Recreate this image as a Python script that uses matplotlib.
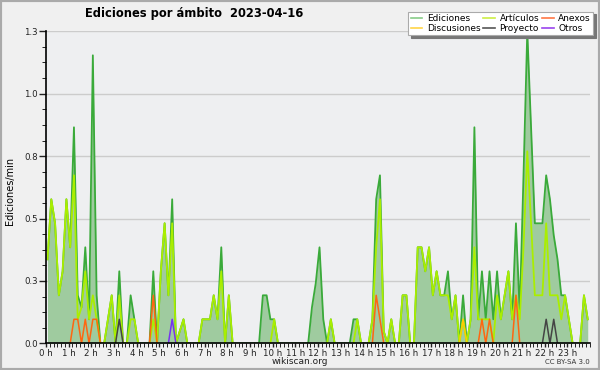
import numpy as np
import matplotlib
matplotlib.use("Agg")
import matplotlib.pyplot as plt
from matplotlib.patches import Rectangle
from matplotlib.ticker import MultipleLocator, FixedLocator

# ediciones por minuto, en intervalos de 10 minutos (144 puntos, 00:00 - 23:50)
minutos = np.arange(144) * 10 + 4

ediciones = [
    0.35, 0.6, 0.5, 0.2, 0.3, 0.6, 0.4, 0.9, 0.2, 0.15, 0.4, 0.1,
    1.2, 0.2, 0, 0, 0.1, 0.2, 0, 0.3, 0, 0, 0.2, 0.1,
    0, 0, 0, 0, 0.3, 0, 0.3, 0.5, 0.2, 0.6, 0, 0.05,
    0.1, 0, 0, 0, 0, 0.1, 0.1, 0.1, 0.2, 0.1, 0.4, 0,
    0.2, 0, 0, 0, 0, 0, 0, 0, 0, 0.2, 0.2, 0.1,
    0.1, 0, 0, 0, 0, 0, 0, 0, 0, 0, 0.15, 0.25,
    0.4, 0.1, 0, 0.1, 0, 0, 0, 0, 0, 0.1, 0.1, 0,
    0, 0, 0.1, 0.6, 0.7, 0.05, 0, 0.1, 0, 0, 0.2, 0.2,
    0, 0, 0.4, 0.4, 0.3, 0.4, 0.2, 0.3, 0.2, 0.2, 0.3, 0.1,
    0.2, 0, 0.2, 0, 0.1, 0.9, 0.1, 0.3, 0.1, 0.3, 0.1, 0.3,
    0.1, 0.2, 0.3, 0.1, 0.5, 0.13, 0.7, 1.3, 0.9, 0.5, 0.5, 0.5,
    0.7, 0.6, 0.45, 0.35, 0.2, 0.2, 0.1, 0, 0, 0, 0.2, 0.1,
]
articulos = [
    0.35, 0.6, 0.5, 0.2, 0.3, 0.6, 0.4, 0.7, 0.1, 0.15, 0.3, 0.1,
    0.2, 0.1, 0, 0, 0.1, 0.2, 0, 0.2, 0, 0, 0.1, 0.1,
    0, 0, 0, 0, 0.1, 0, 0.3, 0.5, 0.2, 0.5, 0, 0.05,
    0.1, 0, 0, 0, 0, 0.1, 0.1, 0.1, 0.2, 0.1, 0.3, 0,
    0.2, 0, 0, 0, 0, 0, 0, 0, 0, 0, 0, 0,
    0.1, 0, 0, 0, 0, 0, 0, 0, 0, 0, 0, 0,
    0, 0, 0, 0.1, 0, 0, 0, 0, 0, 0, 0.1, 0,
    0, 0, 0.1, 0.4, 0.6, 0.05, 0, 0.1, 0, 0, 0.2, 0.2,
    0, 0, 0.4, 0.4, 0.3, 0.4, 0.2, 0.3, 0.2, 0.2, 0.2, 0.1,
    0.2, 0, 0.1, 0, 0.1, 0.4, 0.1, 0.1, 0.1, 0.1, 0, 0.2,
    0.1, 0.2, 0.3, 0.1, 0.2, 0.1, 0.4, 0.8, 0.5, 0.2, 0.2, 0.2,
    0.5, 0.2, 0.2, 0.2, 0.1, 0.2, 0.1, 0, 0, 0, 0.2, 0.1,
]
# series pequeñas: {indice de intervalo: valor}
anexos = {7: 0.1, 8: 0.1, 10: 0.1, 12: 0.1, 13: 0.1, 28: 0.2, 87: 0.2,
          88: 0.1, 115: 0.1, 117: 0.1, 124: 0.2}
discusiones = {110: 0.1}
proyecto = {19: 0.1, 132: 0.1, 134: 0.1}
otros = {33: 0.1}

horas = [f"{h} h" for h in range(24)]

colores = {
    "Ediciones": "#88cc88",
    "Discusiones": "#ffd447",
    "Artículos": "#ccee44",
    "Proyecto": "#555555",
    "Anexos": "#ff7744",
    "Otros": "#9944ee",
}


def serie(d):
    v = np.zeros(144)
    for k, val in d.items():
        v[k] = val
    return v


def sin_ceros(v):
    # oculta los tramos en cero para no dibujar sobre el eje
    v = np.asarray(v, dtype=float)
    izq = np.r_[0, v[:-1]]
    der = np.r_[v[1:], 0]
    return np.where((v == 0) & (izq == 0) & (der == 0), np.nan, v)


x = minutos / 60.0
ed = np.array(ediciones)
ar = np.array(articulos)

fig = plt.figure(figsize=(6, 3.7), dpi=100, facecolor="#f0f0f0")
ax = fig.add_axes([46 / 600, 26.7 / 370, 544 / 600, 312 / 370])
ax.set_facecolor("#eeeff1")

ax.fill_between(x, 0, ed, color="#9fcb9f", lw=0, zorder=1)
ax.plot(x, ed, color="#3aaa3a", lw=1.3, zorder=3)
ax.plot(x, sin_ceros(ar), color="#aaee00", lw=1.3, zorder=4)
ax.plot(x, sin_ceros(serie(discusiones)), color="#ffcc00", lw=1.1, zorder=5)
ax.plot(x, sin_ceros(serie(proyecto)), color="#444444", lw=1.1, zorder=5)
ax.plot(x, sin_ceros(serie(anexos)), color="#ff6611", lw=1.1, zorder=5)
ax.plot(x, sin_ceros(serie(otros)), color="#7733ee", lw=1.1, zorder=5)

ax.set_xlim(0, 24)
ax.set_ylim(0, 1.3)
yt = np.linspace(0, 1.3, 6)
ax.yaxis.set_major_locator(FixedLocator(yt))
ax.set_yticklabels([f"{t:.1f}" for t in yt])
ax.yaxis.set_minor_locator(MultipleLocator(0.065))
ax.xaxis.set_major_locator(FixedLocator(range(24)))
ax.set_xticklabels(horas)
ax.xaxis.set_minor_locator(MultipleLocator(1 / 6))

ax.tick_params(axis="both", labelsize=6.2, colors="#222222", width=1, pad=1)
ax.tick_params(axis="y", which="major", length=5)
ax.tick_params(axis="y", which="minor", length=3)
ax.tick_params(axis="x", which="both", length=3)
ax.grid(axis="y", color="#cccccc", lw=1, zorder=0)
ax.set_axisbelow(True)
for s in ["top", "right"]:
    ax.spines[s].set_visible(False)
for s in ["left", "bottom"]:
    ax.spines[s].set_linewidth(1.2)
    ax.spines[s].set_zorder(6)

fig.text(85 / 600, 1 - 14 / 370, "Ediciones por ámbito  2023-04-16",
         fontsize=8.3, fontweight="bold", va="center", ha="left")
fig.text(10 / 600, 1 - 191 / 370, "Ediciones/min", rotation=90,
         fontsize=7, va="center", ha="center")
fig.text(300 / 600, 1 - 361 / 370, "wikiscan.org", fontsize=6.5,
         ha="center", va="center", color="#222222")
fig.text(590 / 600, 1 - 362 / 370, "CC BY-SA 3.0", fontsize=5,
         ha="right", va="center", color="#333333")

handles = [plt.Line2D([], [], color=c, lw=1.2) for c in colores.values()]
leg = fig.legend(handles, list(colores.keys()), ncol=3, loc="upper right",
                 bbox_to_anchor=(598 / 600, 1 - 7 / 370), fontsize=6.5,
                 frameon=True, fancybox=False, shadow={"color": "#777777", "alpha": 1},
                 handlelength=1.3, handletextpad=0.5, columnspacing=0.3,
                 labelspacing=0.05, borderpad=0.3)
leg.get_frame().set_edgecolor("#aaaaaa")
leg.get_frame().set_facecolor("white")
leg.get_frame().set_linewidth(0.8)

fig.patches.append(Rectangle((0, 0), 1, 1, transform=fig.transFigure,
                             fill=False, edgecolor="#aaaaaa", lw=3))

fig.savefig("out.png", dpi=100, facecolor=fig.get_facecolor())
